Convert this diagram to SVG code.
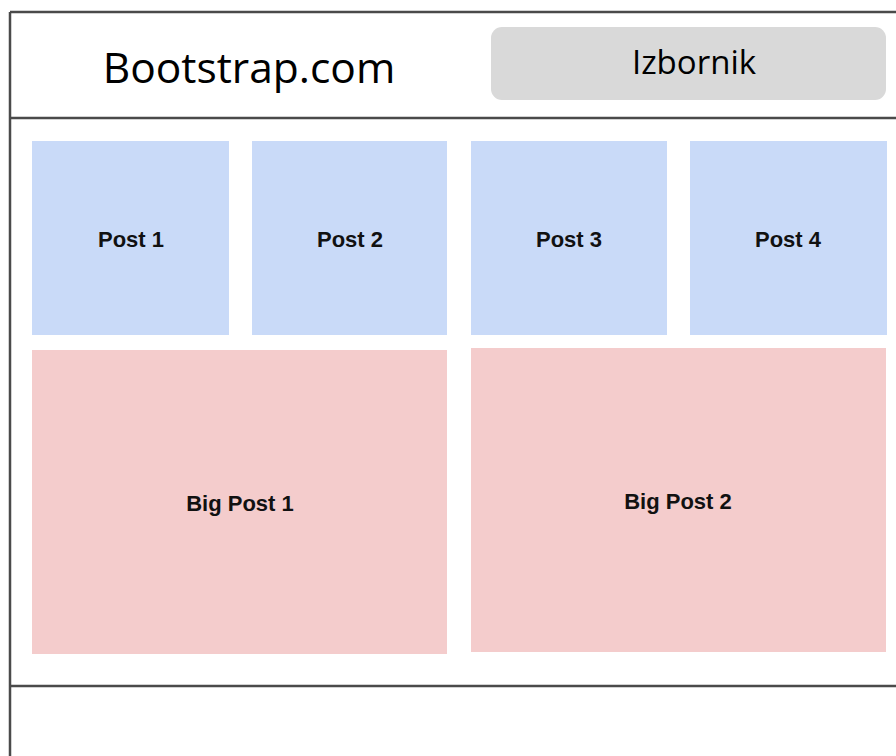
<svg xmlns="http://www.w3.org/2000/svg" width="896" height="756" viewBox="0 0 896 756">
<style>
.frame{stroke:#4a4a4a;stroke-width:2.5;fill:none}
.post{fill:#c9daf8}
.big{fill:#f4cccc}
.lbl{font-family:"Liberation Sans",Arial,sans-serif;font-weight:bold;font-size:22px;fill:#111;text-anchor:middle}
.head{font-family:"Open Sans",sans-serif;fill:#000;text-anchor:middle}
</style>
<rect width="896" height="756" fill="#ffffff"/>
<g id="frame">
<line class="frame" x1="10" y1="12" x2="896" y2="12"/>
<line class="frame" x1="10" y1="12" x2="10" y2="756"/>
<line class="frame" x1="10" y1="118" x2="896" y2="118"/>
<line class="frame" x1="10" y1="686" x2="896" y2="686"/>
</g>
<g id="logo"><text class="head" x="249" y="83" font-size="42.5">Bootstrap.com</text></g>
<g id="izbornik">
<rect x="491" y="27" width="395" height="73" rx="11" fill="#d9d9d9"/>
<text class="head" x="694" y="74" font-size="33">Izbornik</text>
</g>
<g id="post1"><rect class="post" x="32" y="141" width="197" height="194"/><text class="lbl" x="131" y="247">Post 1</text></g>
<g id="post2"><rect class="post" x="252" y="141" width="195" height="194"/><text class="lbl" x="350" y="247">Post 2</text></g>
<g id="post3"><rect class="post" x="471" y="141" width="196" height="194"/><text class="lbl" x="569" y="247">Post 3</text></g>
<g id="post4"><rect class="post" x="690" y="141" width="197" height="194"/><text class="lbl" x="788" y="247">Post 4</text></g>
<g id="bigpost1"><rect class="big" x="32" y="350" width="415" height="304"/><text class="lbl" x="240" y="511">Big Post 1</text></g>
<g id="bigpost2"><rect class="big" x="471" y="348" width="415" height="304"/><text class="lbl" x="678" y="509">Big Post 2</text></g>
<g id="connectors"></g>
</svg>
